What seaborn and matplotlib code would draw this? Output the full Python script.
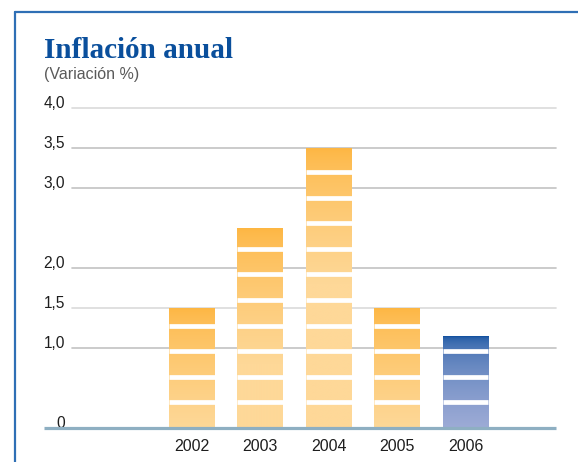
import matplotlib.pyplot as plt
import seaborn as sns
import numpy as np
import pandas as pd
from matplotlib.colors import to_rgb
from matplotlib.lines import Line2D

# Datos
anios = ['2002', '2003', '2004', '2005', '2006']
inflacion = [1.5, 2.5, 3.5, 1.5, 1.15]
yticks = [0, 1.0, 1.5, 2.0, 3.0, 3.5, 4.0]
ytick_labels = ['0', '1,0', '1,5', '2,0', '3,0', '3,5', '4,0']
titulo = 'Inflación anual'
subtitulo = '(Variación %)'

# Colores (arriba -> abajo de cada barra) y curva del degradado
naranja = ('#fdb642', '#fed898', 0.7)
azul = ('#0a4c9c', '#9dabd6', 0.4)
estilos = [naranja, naranja, naranja, naranja, azul]
paso_segmento = 0.32  # alto de cada bloque

sns.set_style('white')
plt.rcParams['font.family'] = ['Liberation Sans', 'DejaVu Sans']

fig = plt.figure(figsize=(5.78, 4.62), dpi=100)
ax = fig.add_axes([72 / 578, 34 / 462, 484 / 578, 320 / 462])

df = pd.DataFrame({'anio': anios, 'valor': inflacion})
sns.barplot(data=df, x='anio', y='valor', hue='anio',
            palette=[e[1] for e in estilos], legend=False,
            width=0.67, saturation=1, ax=ax)

# Degradado + separaciones blancas en cada barra
for patch, (c_top, c_bot, gamma) in zip(ax.patches, estilos):
    x0 = patch.get_x()
    w = patch.get_width()
    h = patch.get_height()
    patch.set_visible(False)
    d = np.linspace(0, h, 200)  # distancia desde arriba
    span = min(1.7, h)
    t = np.clip(d / span, 0, 1) ** gamma
    top = np.array(to_rgb(c_top))
    bot = np.array(to_rgb(c_bot))
    img = top[None, :] + (bot - top)[None, :] * t[:, None]
    ax.imshow(img[:, None, :], extent=[x0, x0 + w, 0, h], origin='upper',
              aspect='auto', zorder=2, interpolation='bilinear')
    k = 1
    while k * paso_segmento < h - 0.05:
        ax.hlines(k * paso_segmento, x0, x0 + w, color='white', lw=3.4, zorder=3)
        k += 1

ax.set_xlim(-1.754, 5.323)
ax.set_ylim(0, 4)

# Lineas de referencia
for v in yticks[1:]:
    col = '#dadada' if v in (4.0, 1.5) else '#c2c2c2'
    ax.axhline(v, color=col, lw=1.2, zorder=0.5, clip_on=False)

# Linea base
ax.plot([-28 / 484, 1], [0, 0], transform=ax.get_yaxis_transform(),
        color='#8eafc2', lw=2.3, zorder=5, clip_on=False, solid_capstyle='butt')

ax.set_yticks(yticks, ytick_labels)
ax.tick_params(axis='y', length=0, pad=5, labelsize=11.2, labelcolor='#1e1e1e')
for lbl in ax.get_yticklabels():
    lbl.set_verticalalignment('baseline')
ax.tick_params(axis='x', length=0, pad=8, labelsize=11.5, labelcolor='#1e1e1e')
ax.set_xlabel('')
ax.set_ylabel('')
for s in ax.spines.values():
    s.set_visible(False)

# Titulos
fig.text(44 / 578, 1 - 58 / 462, titulo, fontsize=21, fontweight='bold',
         color='#0a4f9c', family=['Liberation Serif', 'DejaVu Serif'], va='baseline')
fig.text(44 / 578, 1 - 79 / 462, subtitulo, fontsize=11.5, color='#5a5a5a', va='baseline')

# Marco azul
fig.add_artist(Line2D([15 / 578, 15 / 578], [0, 1 - 12 / 462], color='#2f6fb5', lw=1.6))
fig.add_artist(Line2D([15 / 578, 1], [1 - 12 / 462, 1 - 12 / 462], color='#2f6fb5', lw=1.6))

plt.savefig('out.png', dpi=100)
